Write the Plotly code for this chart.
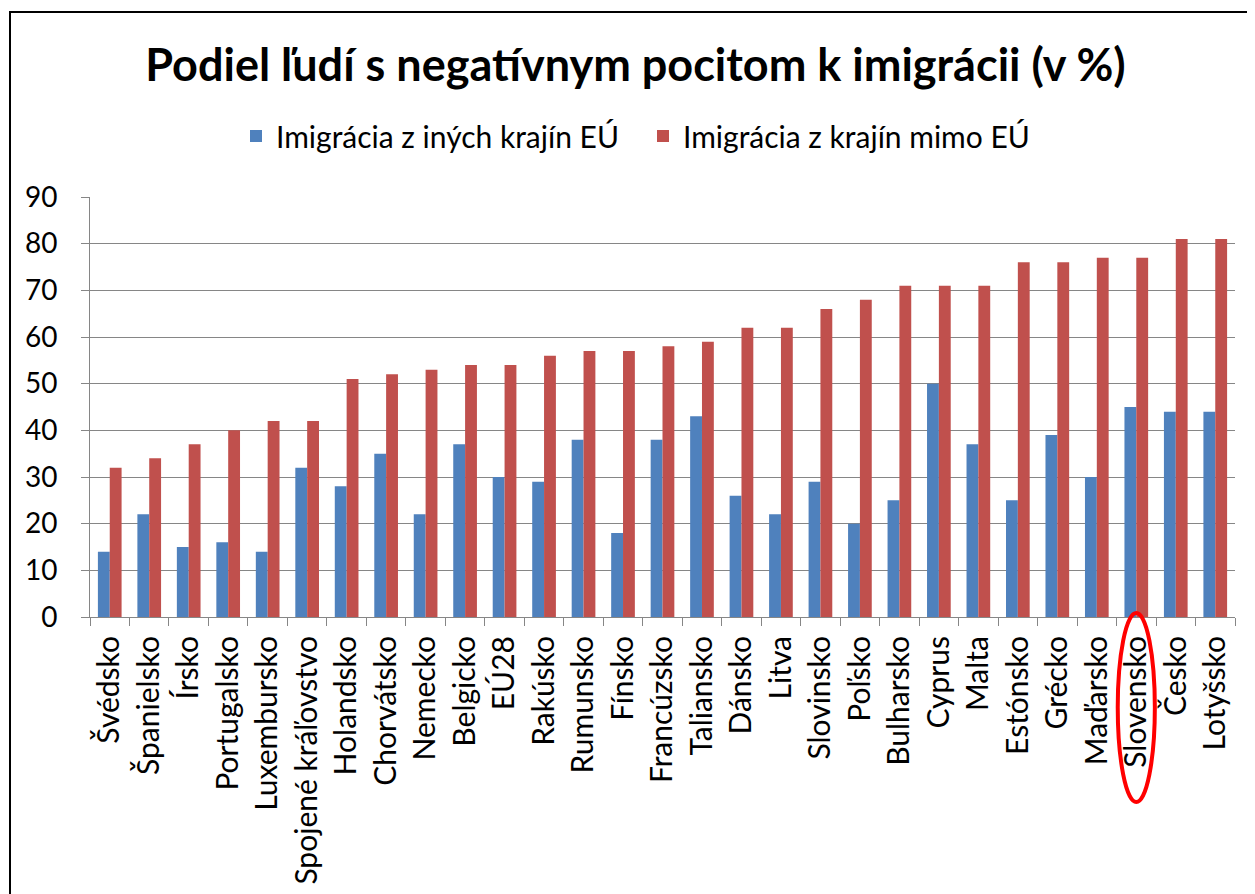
import plotly.graph_objects as go

countries = ["Švédsko", "Španielsko", "Írsko", "Portugalsko", "Luxembursko",
             "Spojené kráľovstvo", "Holandsko", "Chorvátsko", "Nemecko", "Belgicko",
             "EÚ28", "Rakúsko", "Rumunsko", "Fínsko", "Francúzsko", "Taliansko",
             "Dánsko", "Litva", "Slovinsko", "Poľsko", "Bulharsko", "Cyprus", "Malta",
             "Estónsko", "Grécko", "Maďarsko", "Slovensko", "Česko", "Lotyšsko"]
eu_other = [14, 22, 15, 16, 14, 32, 28, 35, 22, 37, 30, 29, 38, 18, 38, 43,
            26, 22, 29, 20, 25, 50, 37, 25, 39, 30, 45, 44, 44]
non_eu = [32, 34, 37, 40, 42, 42, 51, 52, 53, 54, 54, 56, 57, 57, 58, 59,
          62, 62, 66, 68, 71, 71, 71, 76, 76, 77, 77, 81, 81]
series_names = ["Imigrácia z iných krajín EÚ", "Imigrácia z krajín mimo EÚ"]
highlight = "Slovensko"

FONT = "Lato"
OFF = 8  # page body margin offset

fig = go.Figure()
fig.add_trace(go.Bar(x=countries, y=eu_other, name=series_names[0],
                     marker=dict(color="#4F81BD", line=dict(width=0))))
fig.add_trace(go.Bar(x=countries, y=non_eu, name=series_names[1],
                     marker=dict(color="#C0504D", line=dict(width=0))))

W, H = 1255, 894
L = 90 - OFF
T = 197 - OFF
Rpix = 1235 - OFF
Bpix = 617 - OFF
R = W - Rpix
B = H - Bpix
ph = H - T - B
pw = W - L - R

def py(p):
    return (Bpix - (p - OFF)) / ph

def px(p):
    return ((p - OFF) - L) / pw

hi = countries.index(highlight)

fig.update_layout(
    width=W, height=H,
    margin=dict(l=L, r=R, t=T, b=B),
    paper_bgcolor="white", plot_bgcolor="white",
    barmode="group", bargap=0.4, bargroupgap=0,
    font=dict(family=FONT, color="black"),
    title=dict(text="<b>Podiel ľudí s negatívnym pocitom k imigrácii (v %)</b>",
               x=0.5, xanchor="center", y=1 - (65 - OFF) / H, yanchor="middle",
               font=dict(size=45, family=FONT, color="black")),
    legend=dict(orientation="h", x=px(236), xanchor="left", y=py(136), yanchor="middle",
                font=dict(size=30, family=FONT), itemwidth=30, tracegroupgap=0,
                entrywidthmode="pixels", entrywidth=362),
    xaxis=dict(type="category", tickangle=-90, tickson="boundaries",
               ticks="outside", ticklen=8, tickcolor="#868686",
               showline=True, linecolor="#868686", linewidth=1,
               ticklabelstandoff=6,
               tickfont=dict(size=30, family=FONT), showgrid=False),
    yaxis=dict(range=[0, 90], dtick=10, ticks="outside", ticklen=8,
               tickcolor="#868686", showline=True, linecolor="#868686",
               gridcolor="#868686", gridwidth=1, zeroline=False,
               ticklabelstandoff=18,
               tickfont=dict(size=28, family=FONT)),
    shapes=[
        dict(type="rect", xref="paper", yref="paper",
             x0=px(10), x1=px(1300), y0=py(950), y1=py(12),
             line=dict(color="black", width=2), layer="below"),
        dict(type="circle", xref="x", yref="paper",
             x0=hi - 0.47, x1=hi + 0.47, y0=py(802), y1=py(613),
             line=dict(color="red", width=4)),
    ],
)

fig.write_html("out.html")
